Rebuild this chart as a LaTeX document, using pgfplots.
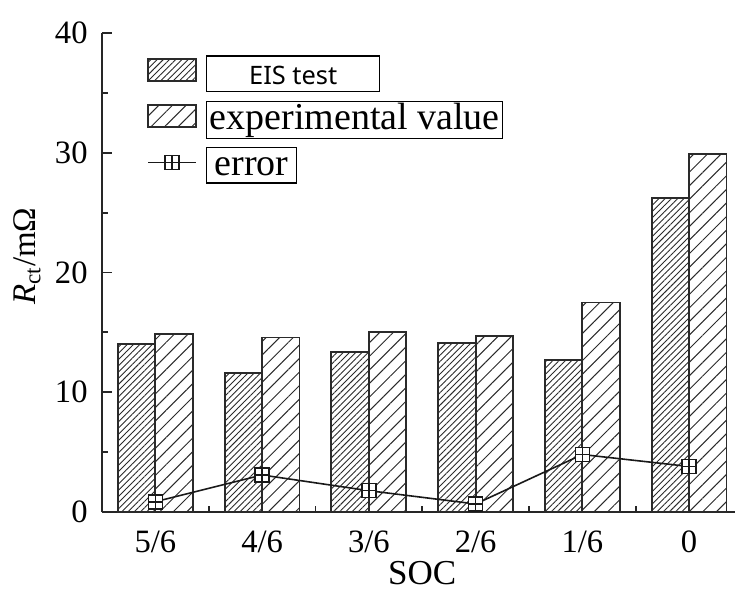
\documentclass[border=0pt]{standalone}
\usepackage{fontspec}
\setmainfont{Liberation Serif}
\newfontfamily\sansf{Noto Sans}
\usepackage{pgfplots}
\pgfplotsset{compat=1.18}
\usetikzlibrary{patterns.meta}

\pgfdeclareplotmark{sqplus}{%
  \pgfpathrectangle{\pgfqpoint{-\pgfplotmarksize}{-\pgfplotmarksize}}{\pgfqpoint{2\pgfplotmarksize}{2\pgfplotmarksize}}%
  \pgfusepathqfillstroke
  \pgfpathmoveto{\pgfqpoint{-\pgfplotmarksize}{0pt}}\pgfpathlineto{\pgfqpoint{\pgfplotmarksize}{0pt}}%
  \pgfpathmoveto{\pgfqpoint{0pt}{-\pgfplotmarksize}}\pgfpathlineto{\pgfqpoint{0pt}{\pgfplotmarksize}}%
  \pgfusepathqstroke}

\definecolor{edge}{HTML}{2A2A2A}
\setlength{\fboxsep}{0pt}
\setlength{\fboxrule}{0.6pt}
\newcommand{\lbox}[2]{\fbox{\makebox[#1][c]{\rule[-3.6pt]{0pt}{17.3pt}#2}}}
\pgfplotsset{
  barleg/.style={legend image code/.code={\draw[##1] (0pt,-5pt) rectangle (24pt,6pt);}},
  lineleg/.style={legend image code/.code={\draw[mark repeat=2,mark phase=2,##1] plot coordinates {(0pt,0pt) (12pt,0pt) (24pt,0pt)};}},
}

\begin{document}
\begin{tikzpicture}
\begin{axis}[
  scale only axis, width=316.5pt, height=239.5pt,
  xmin=-0.5, xmax=5.43, ymin=0, ymax=40,
  axis lines*=left,
  axis line style={line width=1pt, black!85},
  xtick={0,...,5}, xticklabels={5/6,4/6,3/6,2/6,1/6,0},
  minor xtick={0.5,1.5,2.5,3.5,4.5},
  ytick={0,10,20,30,40}, minor ytick={5,15,25,35},
  /pgf/number format/assume math mode=true,
  tick align=inside,
  major tick length=5pt, minor tick length=3pt,
  tick style={line width=0.9pt, black!85},
  ticklabel style={font=\fontsize{16.3}{18}\selectfont},
  yticklabel style={anchor=east, inner sep=0pt, xshift=-7pt},
  xticklabel style={anchor=base, inner sep=0pt, yshift=-20pt},
  xlabel={SOC},
  xlabel style={at={(axis cs:2.5,0)}, anchor=base, yshift=-36pt, inner sep=0pt, font=\fontsize{17.5}{19}\selectfont},
  ylabel={{\itshape R}\textsubscript{ct}/mΩ},
  ylabel style={at={(axis description cs:-0.1185,0.534)}, anchor=center, inner sep=0pt, font=\fontsize{16.5}{18}\selectfont},
  legend style={at={(axis description cs:0,1)}, anchor=north west, xshift=22.5pt, yshift=-11pt,
    draw=none, fill=none, inner sep=0pt, /tikz/row sep=7pt, /tikz/column sep=4.5pt,
    nodes={inner sep=0pt}, font=\fontsize{19}{21}\selectfont},
  legend cell align=left,
]
\addplot[ybar, bar width=0.351, bar shift=-0.1755, draw=edge, line width=0.9pt,
  pattern={Lines[angle=45,distance=2.2pt,line width=0.45pt]}, pattern color=edge, barleg]
  coordinates {(0,14.0) (1,11.58) (2,13.38) (3,14.1) (4,12.7) (5,26.2)};
\addlegendentry{\lbox{85.8pt}{\sansf\fontsize{12.7}{14}\selectfont EIS test}}
\addplot[ybar, bar width=0.351, bar shift=0.1755, draw=edge, line width=0.9pt,
  pattern={Lines[angle=45,distance=4.8pt,line width=0.5pt]}, pattern color=edge, barleg]
  coordinates {(0,14.86) (1,14.58) (2,15.05) (3,14.7) (4,17.5) (5,29.9)};
\addlegendentry{\lbox{147.3pt}{experimental value}}
\addplot[black!90, line width=0.8pt, mark=sqplus, mark size=3.5pt,
  mark options={fill=white, line width=0.8pt}, lineleg]
  coordinates {(0,0.86) (1,3.09) (2,1.78) (3,0.67) (4,4.8) (5,3.8)};
\addlegendentry{\lbox{44.3pt}{error}}
\end{axis}
\pgfresetboundingbox
\path (-51pt,-39pt) rectangle (316.5pt,256pt);
\end{tikzpicture}
\end{document}
